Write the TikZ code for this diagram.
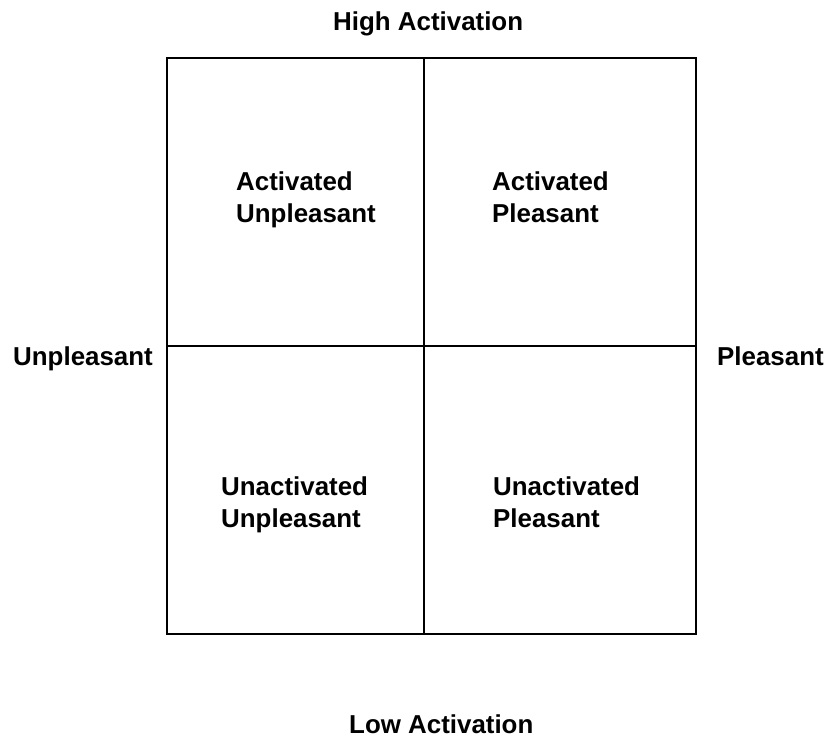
\documentclass[tikz,border=0pt]{standalone}
\usepackage{fontspec}
\setmainfont{Liberation Sans}
\begin{document}
\begin{tikzpicture}[x=1pt,y=1pt,
  lbl/.style={font=\fontsize{25.9}{32}\selectfont\bfseries, inner sep=0pt, anchor=base west},
  quad/.style={font=\fontsize{25.9}{32}\selectfont\bfseries, inner sep=0pt, align=left, anchor=base west},
  grid/.style={line width=2pt, draw=black}]
\useasboundingbox (0,0) rectangle (832,-742);
\coordinate (tl) at (167,-58);
\coordinate (br) at (696,-634);
\coordinate (tm) at (424,-58);
\coordinate (bm) at (424,-634);
\coordinate (lm) at (167,-346);
\coordinate (rm) at (696,-346);
\draw[grid] (tl) rectangle (br);
\draw[grid] (tm) -- (bm);
\draw[grid] (lm) -- (rm);
\node[lbl] (high) at (333,-30) {High Activation};
\node[lbl] (low) at (349,-733) {Low Activation};
\node[lbl] (unp) at (13,-365) {Unpleasant};
\node[lbl] (pls) at (717,-365) {Pleasant};
\node[quad] (au) at (236,-222) {Activated\\Unpleasant};
\node[quad] (ap) at (492,-222) {Activated\\Pleasant};
\node[quad] (uu) at (221,-527) {Unactivated\\Unpleasant};
\node[quad] (up) at (493,-527) {Unactivated\\Pleasant};
\end{tikzpicture}
\end{document}
